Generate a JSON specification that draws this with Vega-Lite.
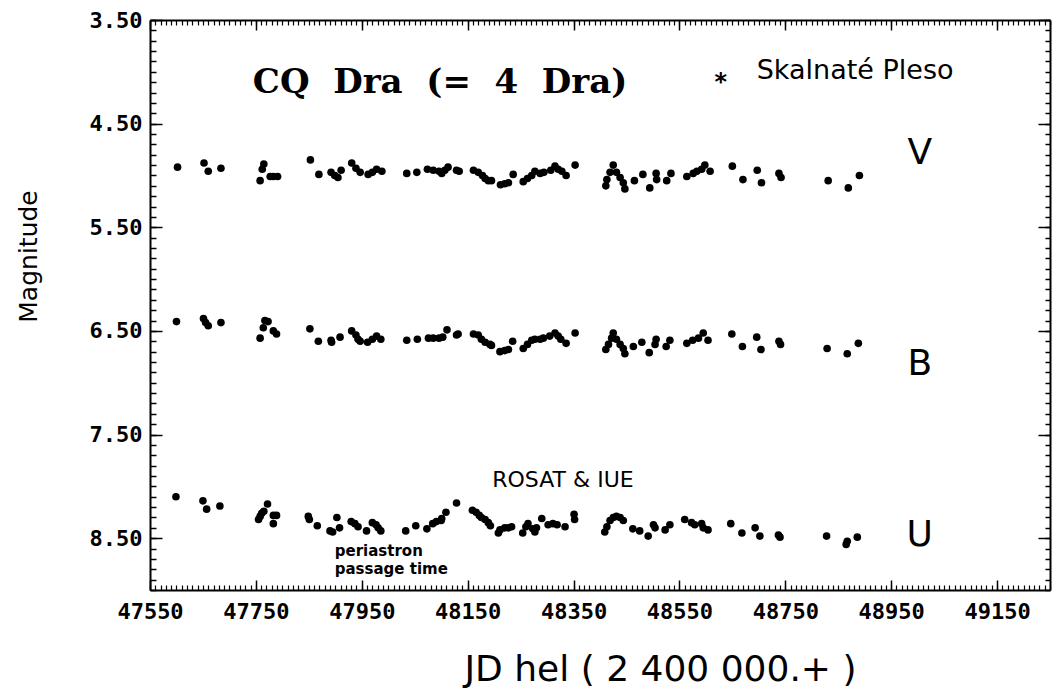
{
  "$schema": "https://vega.github.io/schema/vega-lite/v6.json",
  "width": 900,
  "height": 570,
  "autosize": {"type": "none"},
  "padding": {"left": 150, "top": 20, "right": 2, "bottom": 104},
  "background": "white",
  "config": {
    "view": {"stroke": null},
    "axis": {"grid": false, "domainColor": "black", "tickColor": "black", "labelColor": "black", "titleColor": "black", "domainWidth": 2, "tickWidth": 1.5}
  },
  "datasets": {
    "obs": [
      {"jd":47602,"mag":4.92,"band":"V"},{"jd":47652,"mag":4.88,"band":"V"},{"jd":47660,"mag":4.96,"band":"V"},{"jd":47684,"mag":4.93,"band":"V"},
      {"jd":47765,"mag":4.89,"band":"V"},{"jd":47762,"mag":4.94,"band":"V"},{"jd":47758,"mag":5.05,"band":"V"},{"jd":47777,"mag":5.01,"band":"V"},
      {"jd":47783,"mag":5.01,"band":"V"},{"jd":47791,"mag":5.01,"band":"V"},{"jd":47853,"mag":4.85,"band":"V"},{"jd":47869,"mag":4.99,"band":"V"},
      {"jd":47892,"mag":4.97,"band":"V"},{"jd":47899,"mag":5.00,"band":"V"},{"jd":47905,"mag":5.02,"band":"V"},{"jd":47911,"mag":4.95,"band":"V"},
      {"jd":47931,"mag":4.88,"band":"V"},{"jd":47939,"mag":4.93,"band":"V"},{"jd":47947,"mag":4.97,"band":"V"},{"jd":47962,"mag":4.99,"band":"V"},
      {"jd":47970,"mag":4.97,"band":"V"},{"jd":47978,"mag":4.94,"band":"V"},{"jd":47988,"mag":4.96,"band":"V"},{"jd":48035,"mag":4.98,"band":"V"},
      {"jd":48054,"mag":4.97,"band":"V"},{"jd":48074,"mag":4.94,"band":"V"},{"jd":48085,"mag":4.95,"band":"V"},{"jd":48096,"mag":4.96,"band":"V"},
      {"jd":48101,"mag":4.98,"band":"V"},{"jd":48107,"mag":4.95,"band":"V"},{"jd":48113,"mag":4.92,"band":"V"},{"jd":48129,"mag":4.95,"band":"V"},
      {"jd":48134,"mag":4.96,"band":"V"},{"jd":48161,"mag":4.95,"band":"V"},{"jd":48170,"mag":4.97,"band":"V"},{"jd":48178,"mag":5.00,"band":"V"},
      {"jd":48183,"mag":5.03,"band":"V"},{"jd":48189,"mag":5.05,"band":"V"},{"jd":48195,"mag":5.05,"band":"V"},{"jd":48212,"mag":5.09,"band":"V"},
      {"jd":48220,"mag":5.08,"band":"V"},{"jd":48227,"mag":5.07,"band":"V"},{"jd":48236,"mag":4.99,"band":"V"},{"jd":48255,"mag":5.06,"band":"V"},
      {"jd":48263,"mag":5.03,"band":"V"},{"jd":48271,"mag":5.00,"band":"V"},{"jd":48277,"mag":4.96,"band":"V"},{"jd":48287,"mag":4.98,"band":"V"},
      {"jd":48294,"mag":4.97,"band":"V"},{"jd":48307,"mag":4.95,"band":"V"},{"jd":48315,"mag":4.91,"band":"V"},{"jd":48321,"mag":4.94,"band":"V"},
      {"jd":48328,"mag":4.96,"band":"V"},{"jd":48336,"mag":5.00,"band":"V"},{"jd":48353,"mag":4.90,"band":"V"},{"jd":48425,"mag":4.90,"band":"V"},
      {"jd":48419,"mag":4.97,"band":"V"},{"jd":48413,"mag":5.04,"band":"V"},{"jd":48411,"mag":5.10,"band":"V"},{"jd":48431,"mag":4.97,"band":"V"},
      {"jd":48438,"mag":5.02,"band":"V"},{"jd":48444,"mag":5.07,"band":"V"},{"jd":48447,"mag":5.13,"band":"V"},{"jd":48465,"mag":5.05,"band":"V"},
      {"jd":48481,"mag":4.99,"band":"V"},{"jd":48494,"mag":5.12,"band":"V"},{"jd":48506,"mag":4.98,"band":"V"},{"jd":48507,"mag":5.04,"band":"V"},
      {"jd":48526,"mag":5.05,"band":"V"},{"jd":48534,"mag":4.98,"band":"V"},{"jd":48564,"mag":5.01,"band":"V"},{"jd":48576,"mag":4.98,"band":"V"},
      {"jd":48583,"mag":4.96,"band":"V"},{"jd":48592,"mag":4.94,"band":"V"},{"jd":48598,"mag":4.90,"band":"V"},{"jd":48608,"mag":4.96,"band":"V"},
      {"jd":48650,"mag":4.91,"band":"V"},{"jd":48670,"mag":5.04,"band":"V"},{"jd":48697,"mag":4.95,"band":"V"},{"jd":48705,"mag":5.07,"band":"V"},
      {"jd":48738,"mag":4.98,"band":"V"},{"jd":48742,"mag":5.02,"band":"V"},{"jd":48831,"mag":5.05,"band":"V"},{"jd":48869,"mag":5.12,"band":"V"},
      {"jd":48890,"mag":5.00,"band":"V"},
      {"jd":47600,"mag":6.41,"band":"B"},{"jd":47651,"mag":6.38,"band":"B"},{"jd":47655,"mag":6.42,"band":"B"},{"jd":47660,"mag":6.45,"band":"B"},
      {"jd":47684,"mag":6.42,"band":"B"},{"jd":47767,"mag":6.40,"band":"B"},{"jd":47773,"mag":6.41,"band":"B"},{"jd":47764,"mag":6.47,"band":"B"},
      {"jd":47758,"mag":6.57,"band":"B"},{"jd":47783,"mag":6.50,"band":"B"},{"jd":47789,"mag":6.53,"band":"B"},{"jd":47852,"mag":6.48,"band":"B"},
      {"jd":47868,"mag":6.60,"band":"B"},{"jd":47892,"mag":6.59,"band":"B"},{"jd":47893,"mag":6.61,"band":"B"},{"jd":47909,"mag":6.56,"band":"B"},
      {"jd":47931,"mag":6.50,"band":"B"},{"jd":47939,"mag":6.54,"band":"B"},{"jd":47943,"mag":6.58,"band":"B"},{"jd":47947,"mag":6.60,"band":"B"},
      {"jd":47961,"mag":6.61,"band":"B"},{"jd":47970,"mag":6.58,"band":"B"},{"jd":47978,"mag":6.55,"band":"B"},{"jd":47986,"mag":6.58,"band":"B"},
      {"jd":48035,"mag":6.59,"band":"B"},{"jd":48055,"mag":6.58,"band":"B"},{"jd":48076,"mag":6.57,"band":"B"},{"jd":48085,"mag":6.57,"band":"B"},
      {"jd":48096,"mag":6.57,"band":"B"},{"jd":48103,"mag":6.56,"band":"B"},{"jd":48111,"mag":6.49,"band":"B"},{"jd":48129,"mag":6.54,"band":"B"},
      {"jd":48132,"mag":6.53,"band":"B"},{"jd":48161,"mag":6.53,"band":"B"},{"jd":48170,"mag":6.54,"band":"B"},{"jd":48176,"mag":6.58,"band":"B"},
      {"jd":48183,"mag":6.61,"band":"B"},{"jd":48192,"mag":6.63,"band":"B"},{"jd":48195,"mag":6.64,"band":"B"},{"jd":48211,"mag":6.70,"band":"B"},
      {"jd":48220,"mag":6.69,"band":"B"},{"jd":48227,"mag":6.68,"band":"B"},{"jd":48235,"mag":6.60,"band":"B"},{"jd":48255,"mag":6.67,"band":"B"},
      {"jd":48263,"mag":6.63,"band":"B"},{"jd":48271,"mag":6.59,"band":"B"},{"jd":48277,"mag":6.58,"band":"B"},{"jd":48287,"mag":6.58,"band":"B"},
      {"jd":48293,"mag":6.57,"band":"B"},{"jd":48305,"mag":6.55,"band":"B"},{"jd":48315,"mag":6.52,"band":"B"},{"jd":48321,"mag":6.55,"band":"B"},
      {"jd":48326,"mag":6.58,"band":"B"},{"jd":48336,"mag":6.62,"band":"B"},{"jd":48353,"mag":6.52,"band":"B"},{"jd":48425,"mag":6.52,"band":"B"},
      {"jd":48422,"mag":6.57,"band":"B"},{"jd":48416,"mag":6.63,"band":"B"},{"jd":48411,"mag":6.68,"band":"B"},{"jd":48431,"mag":6.58,"band":"B"},
      {"jd":48438,"mag":6.63,"band":"B"},{"jd":48444,"mag":6.67,"band":"B"},{"jd":48447,"mag":6.72,"band":"B"},{"jd":48463,"mag":6.65,"band":"B"},
      {"jd":48479,"mag":6.61,"band":"B"},{"jd":48493,"mag":6.71,"band":"B"},{"jd":48506,"mag":6.58,"band":"B"},{"jd":48504,"mag":6.63,"band":"B"},
      {"jd":48525,"mag":6.65,"band":"B"},{"jd":48532,"mag":6.59,"band":"B"},{"jd":48564,"mag":6.62,"band":"B"},{"jd":48575,"mag":6.59,"band":"B"},
      {"jd":48586,"mag":6.57,"band":"B"},{"jd":48595,"mag":6.52,"band":"B"},{"jd":48604,"mag":6.59,"band":"B"},{"jd":48649,"mag":6.53,"band":"B"},
      {"jd":48669,"mag":6.65,"band":"B"},{"jd":48696,"mag":6.56,"band":"B"},{"jd":48704,"mag":6.68,"band":"B"},{"jd":48738,"mag":6.60,"band":"B"},
      {"jd":48741,"mag":6.63,"band":"B"},{"jd":48829,"mag":6.67,"band":"B"},{"jd":48867,"mag":6.72,"band":"B"},{"jd":48888,"mag":6.62,"band":"B"},
      {"jd":47599,"mag":8.10,"band":"U"},{"jd":47650,"mag":8.14,"band":"U"},{"jd":47657,"mag":8.22,"band":"U"},{"jd":47682,"mag":8.19,"band":"U"},
      {"jd":47755,"mag":8.32,"band":"U"},{"jd":47758,"mag":8.29,"band":"U"},{"jd":47761,"mag":8.26,"band":"U"},{"jd":47765,"mag":8.24,"band":"U"},
      {"jd":47772,"mag":8.17,"band":"U"},{"jd":47783,"mag":8.28,"band":"U"},{"jd":47789,"mag":8.28,"band":"U"},{"jd":47783,"mag":8.36,"band":"U"},
      {"jd":47849,"mag":8.29,"band":"U"},{"jd":47851,"mag":8.32,"band":"U"},{"jd":47866,"mag":8.38,"band":"U"},{"jd":47890,"mag":8.43,"band":"U"},
      {"jd":47895,"mag":8.44,"band":"U"},{"jd":47903,"mag":8.30,"band":"U"},{"jd":47908,"mag":8.40,"band":"U"},{"jd":47930,"mag":8.34,"band":"U"},
      {"jd":47937,"mag":8.36,"band":"U"},{"jd":47943,"mag":8.39,"band":"U"},{"jd":47959,"mag":8.43,"band":"U"},{"jd":47970,"mag":8.35,"band":"U"},
      {"jd":47977,"mag":8.37,"band":"U"},{"jd":47981,"mag":8.40,"band":"U"},{"jd":47986,"mag":8.43,"band":"U"},{"jd":48033,"mag":8.43,"band":"U"},
      {"jd":48052,"mag":8.38,"band":"U"},{"jd":48073,"mag":8.41,"band":"U"},{"jd":48084,"mag":8.36,"band":"U"},{"jd":48091,"mag":8.34,"band":"U"},
      {"jd":48100,"mag":8.33,"band":"U"},{"jd":48101,"mag":8.31,"band":"U"},{"jd":48109,"mag":8.25,"band":"U"},{"jd":48129,"mag":8.16,"band":"U"},
      {"jd":48159,"mag":8.23,"band":"U"},{"jd":48166,"mag":8.25,"band":"U"},{"jd":48172,"mag":8.28,"band":"U"},{"jd":48176,"mag":8.30,"band":"U"},
      {"jd":48183,"mag":8.32,"band":"U"},{"jd":48189,"mag":8.35,"band":"U"},{"jd":48193,"mag":8.38,"band":"U"},{"jd":48208,"mag":8.45,"band":"U"},
      {"jd":48211,"mag":8.42,"band":"U"},{"jd":48220,"mag":8.40,"band":"U"},{"jd":48227,"mag":8.40,"band":"U"},{"jd":48233,"mag":8.39,"band":"U"},
      {"jd":48254,"mag":8.45,"band":"U"},{"jd":48260,"mag":8.39,"band":"U"},{"jd":48264,"mag":8.36,"band":"U"},{"jd":48273,"mag":8.41,"band":"U"},
      {"jd":48277,"mag":8.44,"band":"U"},{"jd":48280,"mag":8.40,"band":"U"},{"jd":48290,"mag":8.31,"band":"U"},{"jd":48302,"mag":8.37,"band":"U"},
      {"jd":48311,"mag":8.36,"band":"U"},{"jd":48319,"mag":8.37,"band":"U"},{"jd":48334,"mag":8.39,"band":"U"},{"jd":48351,"mag":8.27,"band":"U"},
      {"jd":48352,"mag":8.32,"band":"U"},{"jd":48409,"mag":8.44,"band":"U"},{"jd":48413,"mag":8.39,"band":"U"},{"jd":48419,"mag":8.33,"band":"U"},
      {"jd":48425,"mag":8.30,"band":"U"},{"jd":48431,"mag":8.29,"band":"U"},{"jd":48438,"mag":8.30,"band":"U"},{"jd":48444,"mag":8.33,"band":"U"},
      {"jd":48462,"mag":8.41,"band":"U"},{"jd":48475,"mag":8.43,"band":"U"},{"jd":48491,"mag":8.48,"band":"U"},{"jd":48501,"mag":8.37,"band":"U"},
      {"jd":48504,"mag":8.40,"band":"U"},{"jd":48523,"mag":8.42,"band":"U"},{"jd":48532,"mag":8.37,"band":"U"},{"jd":48560,"mag":8.32,"band":"U"},
      {"jd":48573,"mag":8.35,"band":"U"},{"jd":48579,"mag":8.37,"band":"U"},{"jd":48592,"mag":8.36,"band":"U"},{"jd":48595,"mag":8.40,"band":"U"},
      {"jd":48604,"mag":8.42,"band":"U"},{"jd":48647,"mag":8.36,"band":"U"},{"jd":48668,"mag":8.45,"band":"U"},{"jd":48693,"mag":8.40,"band":"U"},
      {"jd":48702,"mag":8.48,"band":"U"},{"jd":48737,"mag":8.47,"band":"U"},{"jd":48740,"mag":8.49,"band":"U"},{"jd":48828,"mag":8.48,"band":"U"},
      {"jd":48865,"mag":8.56,"band":"U"},{"jd":48867,"mag":8.53,"band":"U"},{"jd":48886,"mag":8.49,"band":"U"}
    ]
  },
  "resolve": {"scale": {"x": "independent", "y": "independent"}, "axis": {"x": "independent", "y": "independent"}},
  "layer": [
    {
      "data": {"name": "obs"},
      "mark": {"type": "point", "opacity": 0},
      "encoding": {
        "x": {"field": "jd", "type": "quantitative",
          "scale": {"domain": [47550, 49250], "nice": false, "zero": false},
          "axis": {"orient": "bottom", "labels": false, "domain": false, "title": null, "tickSize": -5, "tickWidth": 1.2,
            "values": [47550,47560,47570,47580,47590,47600,47610,47620,47630,47640,47650,47660,47670,47680,47690,47700,47710,47720,47730,47740,47750,47760,47770,47780,47790,47800,47810,47820,47830,47840,47850,47860,47870,47880,47890,47900,47910,47920,47930,47940,47950,47960,47970,47980,47990,48000,48010,48020,48030,48040,48050,48060,48070,48080,48090,48100,48110,48120,48130,48140,48150,48160,48170,48180,48190,48200,48210,48220,48230,48240,48250,48260,48270,48280,48290,48300,48310,48320,48330,48340,48350,48360,48370,48380,48390,48400,48410,48420,48430,48440,48450,48460,48470,48480,48490,48500,48510,48520,48530,48540,48550,48560,48570,48580,48590,48600,48610,48620,48630,48640,48650,48660,48670,48680,48690,48700,48710,48720,48730,48740,48750,48760,48770,48780,48790,48800,48810,48820,48830,48840,48850,48860,48870,48880,48890,48900,48910,48920,48930,48940,48950,48960,48970,48980,48990,49000,49010,49020,49030,49040,49050,49060,49070,49080,49090,49100,49110,49120,49130,49140,49150,49160,49170,49180,49190,49200,49210,49220,49230,49240,49250]}},
        "y": {"field": "mag", "type": "quantitative",
          "scale": {"domain": [3.5, 9.0], "reverse": true, "nice": false, "zero": false},
          "axis": {"orient": "left", "labels": false, "domain": false, "title": null, "tickSize": -6, "tickWidth": 1.5,
            "values": [3.5,3.6,3.7,3.8,3.9,4.0,4.1,4.2,4.3,4.4,4.5,4.6,4.7,4.8,4.9,5.0,5.1,5.2,5.3,5.4,5.5,5.6,5.7,5.8,5.9,6.0,6.1,6.2,6.3,6.4,6.5,6.6,6.7,6.8,6.9,7.0,7.1,7.2,7.3,7.4,7.5,7.6,7.7,7.8,7.9,8.0,8.1,8.2,8.3,8.4,8.5,8.6,8.7,8.8,8.9,9.0]}}
      }
    },
    {
      "data": {"name": "obs"},
      "mark": {"type": "point", "opacity": 0},
      "encoding": {
        "x": {"field": "jd", "type": "quantitative",
          "scale": {"domain": [47550, 49250], "nice": false, "zero": false},
          "axis": {"orient": "top", "labels": false, "domain": false, "title": null, "tickSize": -5, "tickWidth": 1.2,
            "values": [47550,47560,47570,47580,47590,47600,47610,47620,47630,47640,47650,47660,47670,47680,47690,47700,47710,47720,47730,47740,47750,47760,47770,47780,47790,47800,47810,47820,47830,47840,47850,47860,47870,47880,47890,47900,47910,47920,47930,47940,47950,47960,47970,47980,47990,48000,48010,48020,48030,48040,48050,48060,48070,48080,48090,48100,48110,48120,48130,48140,48150,48160,48170,48180,48190,48200,48210,48220,48230,48240,48250,48260,48270,48280,48290,48300,48310,48320,48330,48340,48350,48360,48370,48380,48390,48400,48410,48420,48430,48440,48450,48460,48470,48480,48490,48500,48510,48520,48530,48540,48550,48560,48570,48580,48590,48600,48610,48620,48630,48640,48650,48660,48670,48680,48690,48700,48710,48720,48730,48740,48750,48760,48770,48780,48790,48800,48810,48820,48830,48840,48850,48860,48870,48880,48890,48900,48910,48920,48930,48940,48950,48960,48970,48980,48990,49000,49010,49020,49030,49040,49050,49060,49070,49080,49090,49100,49110,49120,49130,49140,49150,49160,49170,49180,49190,49200,49210,49220,49230,49240,49250]}},
        "y": {"field": "mag", "type": "quantitative",
          "scale": {"domain": [3.5, 9.0], "reverse": true, "nice": false, "zero": false},
          "axis": {"orient": "right", "labels": false, "domain": false, "title": null, "tickSize": -5, "tickWidth": 1.5,
            "values": [3.5,3.6,3.7,3.8,3.9,4.0,4.1,4.2,4.3,4.4,4.5,4.6,4.7,4.8,4.9,5.0,5.1,5.2,5.3,5.4,5.5,5.6,5.7,5.8,5.9,6.0,6.1,6.2,6.3,6.4,6.5,6.6,6.7,6.8,6.9,7.0,7.1,7.2,7.3,7.4,7.5,7.6,7.7,7.8,7.9,8.0,8.1,8.2,8.3,8.4,8.5,8.6,8.7,8.8,8.9,9.0]}}
      }
    },
    {
      "data": {"name": "obs"},
      "mark": {"type": "point", "opacity": 0},
      "encoding": {
        "x": {"field": "jd", "type": "quantitative",
          "scale": {"domain": [47550, 49250], "nice": false, "zero": false},
          "axis": {"orient": "top", "labels": false, "title": null, "tickSize": -10,
            "values": [47550, 47750, 47950, 48150, 48350, 48550, 48750, 48950, 49150]}},
        "y": {"field": "mag", "type": "quantitative",
          "scale": {"domain": [3.5, 9.0], "reverse": true, "nice": false, "zero": false},
          "axis": {"orient": "right", "labels": false, "title": null, "tickSize": -12,
            "values": [3.5, 4.5, 5.5, 6.5, 7.5, 8.5]}}
      }
    },
    {
      "data": {"name": "obs"},
      "mark": {"type": "point", "shape": "circle", "filled": true, "color": "black", "opacity": 1, "size": 58},
      "encoding": {
        "x": {"field": "jd", "type": "quantitative",
          "scale": {"domain": [47550, 49250], "nice": false, "zero": false},
          "axis": {"orient": "bottom", "values": [47550, 47750, 47950, 48150, 48350, 48550, 48750, 48950, 49150], "format": "d",
            "tickSize": -10, "labelPadding": 21, "labelFont": "DejaVu Sans Mono", "labelFontSize": 22, "labelFontWeight": "bold",
            "labelFlush": false, "labelOverlap": false,
            "title": "JD hel ( 2 400 000.+ )", "titleFont": "DejaVu Sans", "titleFontSize": 36, "titleFontWeight": "normal",
            "titleX": 510, "titleY": 90, "titleBaseline": "alphabetic", "titleAlign": "center", "titleAnchor": null}},
        "y": {"field": "mag", "type": "quantitative",
          "scale": {"domain": [3.5, 9.0], "reverse": true, "nice": false, "zero": false},
          "axis": {"orient": "left", "values": [3.5, 4.5, 5.5, 6.5, 7.5, 8.5], "format": ".2f",
            "tickSize": -12, "labelPadding": 20, "labelFont": "DejaVu Sans Mono", "labelFontSize": 22, "labelFontWeight": "bold",
            "labelFlush": false, "labelOverlap": false, "labelBaseline": "middle",
            "title": "Magnitude", "titleFont": "DejaVu Sans", "titleFontSize": 25, "titleFontWeight": "normal",
            "titleX": -122, "titleY": 236, "titleAngle": -90, "titleAlign": "center", "titleBaseline": "middle"}}
      }
    },
    {
      "data": {"values": [
        {"jd": 48098, "mag": 4.20, "label": "CQ\u00a0 Dra\u00a0 (=\u00a0 4\u00a0 Dra)", "kind": "title"},
        {"jd": 48696, "mag": 4.07, "label": "Skalnaté Pleso", "kind": "site"},
        {"jd": 48628, "mag": 4.18, "label": "*", "kind": "star"},
        {"jd": 49004, "mag": 4.78, "label": "V", "kind": "band"},
        {"jd": 49004, "mag": 6.82, "label": "B", "kind": "band"},
        {"jd": 49004, "mag": 8.47, "label": "U", "kind": "band"},
        {"jd": 48330, "mag": 7.94, "label": "ROSAT & IUE", "kind": "rosat"},
        {"jd": 47899, "mag": 8.625, "label": "periastron", "kind": "peri"},
        {"jd": 47899, "mag": 8.80, "label": "passage time", "kind": "peri"}
      ]},
      "layer": [
        {
          "transform": [{"filter": "datum.kind === 'title'"}],
          "mark": {"type": "text", "font": "DejaVu Serif", "fontWeight": "bold", "fontSize": 34, "align": "center", "baseline": "alphabetic", "color": "black"}
        },
        {
          "transform": [{"filter": "datum.kind === 'site'"}],
          "mark": {"type": "text", "font": "DejaVu Sans", "fontSize": 27, "align": "left", "baseline": "alphabetic", "color": "black"}
        },
        {
          "transform": [{"filter": "datum.kind === 'star'"}],
          "mark": {"type": "text", "font": "DejaVu Sans", "fontWeight": "bold", "fontSize": 24, "align": "center", "baseline": "alphabetic", "color": "black"}
        },
        {
          "transform": [{"filter": "datum.kind === 'band'"}],
          "mark": {"type": "text", "font": "DejaVu Sans", "fontSize": 36, "align": "center", "baseline": "middle", "color": "black"}
        },
        {
          "transform": [{"filter": "datum.kind === 'rosat'"}],
          "mark": {"type": "text", "font": "DejaVu Sans", "fontSize": 22, "align": "center", "baseline": "middle", "color": "black"}
        },
        {
          "transform": [{"filter": "datum.kind === 'peri'"}],
          "mark": {"type": "text", "font": "DejaVu Sans", "fontWeight": "bold", "fontSize": 15, "align": "left", "baseline": "middle", "color": "black"}
        }
      ],
      "encoding": {
        "x": {"field": "jd", "type": "quantitative", "axis": null, "scale": {"domain": [47550, 49250], "nice": false, "zero": false}},
        "y": {"field": "mag", "type": "quantitative", "axis": null, "scale": {"domain": [3.5, 9.0], "reverse": true, "nice": false, "zero": false}},
        "text": {"field": "label"}
      }
    }
  ]
}
